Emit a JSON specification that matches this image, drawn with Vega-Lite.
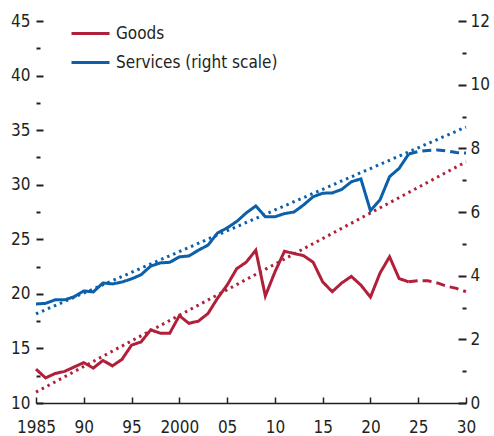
{
  "$schema": "https://vega.github.io/schema/vega-lite/v6.json",
  "width": 430,
  "height": 382,
  "autosize": "none",
  "padding": {"left": 36, "top": 21, "right": 28, "bottom": 33},
  "background": "white",
  "config": {
    "view": {"stroke": null},
    "font": "'Liberation Sans Narrow', 'DejaVu Sans Condensed', sans-serif",
    "axis": {
      "grid": false,
      "domain": false,
      "title": null,
      "labelFont": "'Liberation Sans Narrow', 'DejaVu Sans Condensed', sans-serif",
      "labelFontSize": 17,
      "labelColor": "#231f20",
      "tickColor": "#231f20"
    },
    "legend": {
      "labelFont": "'Liberation Sans Narrow', 'DejaVu Sans Condensed', sans-serif",
      "labelFontSize": 17,
      "labelColor": "#231f20"
    }
  },
  "data": {
    "values": [
      {"s": "Goods", "k": "actual", "x": 1985, "v": 13.1},
      {"s": "Goods", "k": "actual", "x": 1986, "v": 12.3},
      {"s": "Goods", "k": "actual", "x": 1987, "v": 12.7},
      {"s": "Goods", "k": "actual", "x": 1988, "v": 12.9},
      {"s": "Goods", "k": "actual", "x": 1989, "v": 13.3},
      {"s": "Goods", "k": "actual", "x": 1990, "v": 13.7},
      {"s": "Goods", "k": "actual", "x": 1991, "v": 13.2},
      {"s": "Goods", "k": "actual", "x": 1992, "v": 13.9},
      {"s": "Goods", "k": "actual", "x": 1993, "v": 13.4},
      {"s": "Goods", "k": "actual", "x": 1994, "v": 14.0},
      {"s": "Goods", "k": "actual", "x": 1995, "v": 15.3},
      {"s": "Goods", "k": "actual", "x": 1996, "v": 15.6},
      {"s": "Goods", "k": "actual", "x": 1997, "v": 16.7},
      {"s": "Goods", "k": "actual", "x": 1998, "v": 16.4},
      {"s": "Goods", "k": "actual", "x": 1999, "v": 16.4},
      {"s": "Goods", "k": "actual", "x": 2000, "v": 18.0},
      {"s": "Goods", "k": "actual", "x": 2001, "v": 17.3},
      {"s": "Goods", "k": "actual", "x": 2002, "v": 17.5},
      {"s": "Goods", "k": "actual", "x": 2003, "v": 18.2},
      {"s": "Goods", "k": "actual", "x": 2004, "v": 19.6},
      {"s": "Goods", "k": "actual", "x": 2005, "v": 20.8},
      {"s": "Goods", "k": "actual", "x": 2006, "v": 22.3},
      {"s": "Goods", "k": "actual", "x": 2007, "v": 22.9},
      {"s": "Goods", "k": "actual", "x": 2008, "v": 24.0},
      {"s": "Goods", "k": "actual", "x": 2009, "v": 19.8},
      {"s": "Goods", "k": "actual", "x": 2010, "v": 22.0},
      {"s": "Goods", "k": "actual", "x": 2011, "v": 23.9},
      {"s": "Goods", "k": "actual", "x": 2012, "v": 23.7},
      {"s": "Goods", "k": "actual", "x": 2013, "v": 23.5},
      {"s": "Goods", "k": "actual", "x": 2014, "v": 22.9},
      {"s": "Goods", "k": "actual", "x": 2015, "v": 21.1},
      {"s": "Goods", "k": "actual", "x": 2016, "v": 20.2},
      {"s": "Goods", "k": "actual", "x": 2017, "v": 21.0},
      {"s": "Goods", "k": "actual", "x": 2018, "v": 21.6},
      {"s": "Goods", "k": "actual", "x": 2019, "v": 20.8},
      {"s": "Goods", "k": "actual", "x": 2020, "v": 19.7},
      {"s": "Goods", "k": "actual", "x": 2021, "v": 21.9},
      {"s": "Goods", "k": "actual", "x": 2022, "v": 23.4},
      {"s": "Goods", "k": "actual", "x": 2023, "v": 21.4},
      {"s": "Goods", "k": "actual", "x": 2024, "v": 21.1},
      {"s": "Goods", "k": "proj", "x": 2024, "v": 21.1},
      {"s": "Goods", "k": "proj", "x": 2025, "v": 21.2},
      {"s": "Goods", "k": "proj", "x": 2026, "v": 21.2},
      {"s": "Goods", "k": "proj", "x": 2027, "v": 21.0},
      {"s": "Goods", "k": "proj", "x": 2028, "v": 20.7},
      {"s": "Goods", "k": "proj", "x": 2029, "v": 20.5},
      {"s": "Goods", "k": "proj", "x": 2030, "v": 20.2},
      {"s": "Goods", "k": "trend", "x": 1985, "v": 11.0},
      {"s": "Goods", "k": "trend", "x": 2030, "v": 32.1},
      {"s": "Services (right scale)", "k": "actual", "x": 1985, "v": 3.11},
      {"s": "Services (right scale)", "k": "actual", "x": 1986, "v": 3.13},
      {"s": "Services (right scale)", "k": "actual", "x": 1987, "v": 3.24},
      {"s": "Services (right scale)", "k": "actual", "x": 1988, "v": 3.24},
      {"s": "Services (right scale)", "k": "actual", "x": 1989, "v": 3.34},
      {"s": "Services (right scale)", "k": "actual", "x": 1990, "v": 3.52},
      {"s": "Services (right scale)", "k": "actual", "x": 1991, "v": 3.49},
      {"s": "Services (right scale)", "k": "actual", "x": 1992, "v": 3.77},
      {"s": "Services (right scale)", "k": "actual", "x": 1993, "v": 3.74},
      {"s": "Services (right scale)", "k": "actual", "x": 1994, "v": 3.80},
      {"s": "Services (right scale)", "k": "actual", "x": 1995, "v": 3.90},
      {"s": "Services (right scale)", "k": "actual", "x": 1996, "v": 4.03},
      {"s": "Services (right scale)", "k": "actual", "x": 1997, "v": 4.30},
      {"s": "Services (right scale)", "k": "actual", "x": 1998, "v": 4.40},
      {"s": "Services (right scale)", "k": "actual", "x": 1999, "v": 4.42},
      {"s": "Services (right scale)", "k": "actual", "x": 2000, "v": 4.59},
      {"s": "Services (right scale)", "k": "actual", "x": 2001, "v": 4.62},
      {"s": "Services (right scale)", "k": "actual", "x": 2002, "v": 4.80},
      {"s": "Services (right scale)", "k": "actual", "x": 2003, "v": 4.96},
      {"s": "Services (right scale)", "k": "actual", "x": 2004, "v": 5.34},
      {"s": "Services (right scale)", "k": "actual", "x": 2005, "v": 5.50},
      {"s": "Services (right scale)", "k": "actual", "x": 2006, "v": 5.70},
      {"s": "Services (right scale)", "k": "actual", "x": 2007, "v": 5.97},
      {"s": "Services (right scale)", "k": "actual", "x": 2008, "v": 6.19},
      {"s": "Services (right scale)", "k": "actual", "x": 2009, "v": 5.85},
      {"s": "Services (right scale)", "k": "actual", "x": 2010, "v": 5.85},
      {"s": "Services (right scale)", "k": "actual", "x": 2011, "v": 5.95},
      {"s": "Services (right scale)", "k": "actual", "x": 2012, "v": 6.00},
      {"s": "Services (right scale)", "k": "actual", "x": 2013, "v": 6.22},
      {"s": "Services (right scale)", "k": "actual", "x": 2014, "v": 6.48},
      {"s": "Services (right scale)", "k": "actual", "x": 2015, "v": 6.59},
      {"s": "Services (right scale)", "k": "actual", "x": 2016, "v": 6.60},
      {"s": "Services (right scale)", "k": "actual", "x": 2017, "v": 6.71},
      {"s": "Services (right scale)", "k": "actual", "x": 2018, "v": 6.95},
      {"s": "Services (right scale)", "k": "actual", "x": 2019, "v": 7.04},
      {"s": "Services (right scale)", "k": "actual", "x": 2020, "v": 6.04},
      {"s": "Services (right scale)", "k": "actual", "x": 2021, "v": 6.38},
      {"s": "Services (right scale)", "k": "actual", "x": 2022, "v": 7.11},
      {"s": "Services (right scale)", "k": "actual", "x": 2023, "v": 7.37},
      {"s": "Services (right scale)", "k": "actual", "x": 2024, "v": 7.82},
      {"s": "Services (right scale)", "k": "proj", "x": 2024, "v": 7.82},
      {"s": "Services (right scale)", "k": "proj", "x": 2025, "v": 7.90},
      {"s": "Services (right scale)", "k": "proj", "x": 2026, "v": 7.93},
      {"s": "Services (right scale)", "k": "proj", "x": 2027, "v": 7.95},
      {"s": "Services (right scale)", "k": "proj", "x": 2028, "v": 7.92},
      {"s": "Services (right scale)", "k": "proj", "x": 2029, "v": 7.87},
      {"s": "Services (right scale)", "k": "proj", "x": 2030, "v": 7.85},
      {"s": "Services (right scale)", "k": "trend", "x": 1985, "v": 2.8},
      {"s": "Services (right scale)", "k": "trend", "x": 2030, "v": 8.67}
    ]
  },
  "encoding": {
    "x": {
      "field": "x",
      "type": "quantitative",
      "scale": {"domain": [1985, 2030], "nice": false, "zero": false},
      "axis": {
        "values": [1985, 1990, 1995, 2000, 2005, 2010, 2015, 2020, 2025, 2030],
        "labelExpr": "datum.value == 1985 || datum.value == 2000 ? '' + datum.value : slice('' + datum.value, 2)",
        "domain": true,
        "domainColor": "#231f20",
        "domainWidth": 1.5,
        "tickSize": -6,
        "tickWidth": 1.5,
        "labelPadding": 22,
        "labelFlush": false
      }
    },
    "color": {
      "field": "s",
      "type": "nominal",
      "scale": {"domain": ["Goods", "Services (right scale)"], "range": ["#b1203a", "#0c5fa9"]},
      "legend": {
        "title": null,
        "orient": "none",
        "legendX": 34,
        "legendY": -8,
        "symbolType": "stroke",
        "symbolSize": 1444,
        "symbolStrokeWidth": 3,
        "rowPadding": -18,
        "labelOffset": 5,
        "labelLimit": 0
      }
    },
    "strokeDash": {
      "field": "k",
      "type": "nominal",
      "scale": {"domain": ["actual", "proj", "trend"], "range": [[1, 0], [9, 5], [2.5, 4]]},
      "legend": null
    }
  },
  "layer": [
    {
      "transform": [{"filter": "datum.s == 'Goods'"}],
      "mark": {"type": "line", "strokeWidth": 3},
      "encoding": {
        "y": {
          "field": "v",
          "type": "quantitative",
          "scale": {"domain": [10, 45], "nice": false, "zero": false},
          "axis": {
            "orient": "left",
            "values": [10, 12.5, 15, 17.5, 20, 22.5, 25, 27.5, 30, 32.5, 35, 37.5, 40, 42.5, 45],
            "labelExpr": "datum.value % 5 === 0 ? datum.label : ''",
            "tickSize": {"condition": {"test": "datum.value % 5 === 0", "value": -7}, "value": -4},
            "tickWidth": 2,
            "labelPadding": 13
          }
        }
      }
    },
    {
      "transform": [{"filter": "datum.s != 'Goods'"}],
      "mark": {"type": "line", "strokeWidth": 3},
      "encoding": {
        "y": {
          "field": "v",
          "type": "quantitative",
          "scale": {"domain": [0, 12], "nice": false, "zero": false},
          "axis": {
            "orient": "right",
            "values": [0, 1, 2, 3, 4, 5, 6, 7, 8, 9, 10, 11, 12],
            "labelExpr": "datum.value % 2 === 0 ? datum.label : ''",
            "tickSize": {"condition": {"test": "datum.value % 2 === 0", "value": -8}, "value": -4},
            "tickWidth": 2,
            "labelPadding": 12
          }
        }
      }
    }
  ],
  "resolve": {"scale": {"y": "independent"}}
}
